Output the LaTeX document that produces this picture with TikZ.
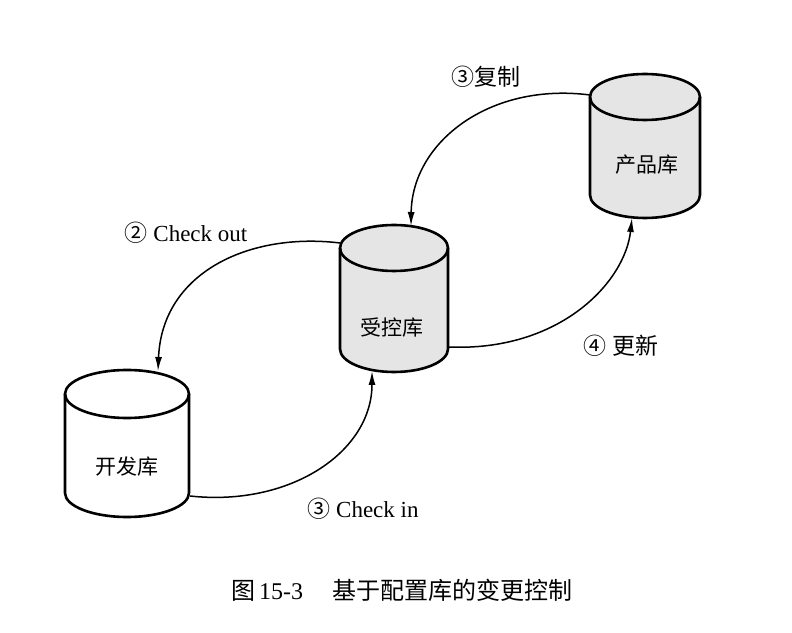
\documentclass[tikz,border=0pt]{standalone}
\usepackage{fontspec}
\setmainfont{Liberation Serif}
\newfontfamily\cjk{Noto Sans CJK SC}
\usetikzlibrary{arrows.meta}
\newcommand\dbcyl[6]{% cx, topY, botY, rx, ry, fill
  \fill[#6] (#1-#4,#2) -- (#1-#4,#3) arc[start angle=180,end angle=360,x radius=#4,y radius=#5]
     -- (#1+#4,#2) arc[start angle=0,end angle=180,x radius=#4,y radius=#5] -- cycle;
  \draw[cylline] (#1,#2) ellipse[x radius=#4,y radius=#5];
  \draw[cylline] (#1-#4,#2) -- (#1-#4,#3) arc[start angle=180,end angle=360,x radius=#4,y radius=#5] -- (#1+#4,#2);
}
\begin{document}
\begin{tikzpicture}[x=1pt,y=1pt,
  cylline/.style={line width=2.6pt,line join=round},
  conn/.style={line width=1.5pt,-{Latex[length=14pt,width=7pt]}},
  dbtext/.style={font=\cjk\fontsize{21}{24}\selectfont,inner sep=0pt},
  lbl/.style={font=\fontsize{23}{26}\selectfont,inner sep=0pt},
  captext/.style={font=\fontsize{24}{28}\selectfont,inner sep=0pt}]
\useasboundingbox[fill=white] (0,0) rectangle (792,632);

% cylinders
\dbcyl{394}{384}{283}{54}{23}{gray!20}
\dbcyl{645}{535}{437}{55}{23}{gray!20}
\dbcyl{127}{238}{139}{62}{24}{white}

\node[dbtext] (ctrl) at (392,304) {受控库};
\node[dbtext] (prod) at (647,467) {产品库};
\node[dbtext] (dev)  at (127,165) {开发库};

% connection points
\coordinate (ctrlL) at (340,389);
\coordinate (ctrlT) at (411,406);
\coordinate (ctrlB) at (372,261);
\coordinate (ctrlR) at (448,285);
\coordinate (prodL) at (590,537);
\coordinate (prodB) at (632,414);
\coordinate (devT)  at (158,261);
\coordinate (devR)  at (190,136);

% connectors
\draw[conn] (ctrlL) .. controls (250,400) and (162,360) .. (devT);
\draw[conn] (devR) .. controls (290,125) and (372,180) .. (ctrlB);
\draw[conn] (prodL) .. controls (490,550) and (412,490) .. (ctrlT);
\draw[conn] (ctrlR) .. controls (560,280) and (625,350) .. (prodB);

% labels
\node[lbl] (lcopy) at (486,555) {{\cjk ③复制}};
\node[lbl] (lout) at (186,399) {{\cjk ②}\ Check out};
\node[lbl] (lin) at (363,123) {{\cjk ③}\ Check in};
\node[lbl] (lupd) at (621,286) {{\cjk ④}\ {\cjk 更新}};

% caption
\node[captext] (cap) at (402,42) {{\cjk 图}\,15-3\hspace{30pt}{\cjk 基于配置库的变更控制}};
\end{tikzpicture}
\end{document}
